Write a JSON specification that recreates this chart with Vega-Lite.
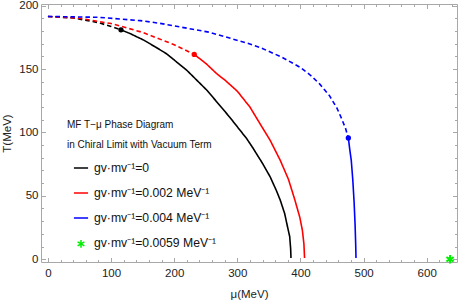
{
  "$schema": "https://vega.github.io/schema/vega-lite/v6.json",
  "width": 416,
  "height": 258,
  "autosize": "none",
  "padding": {"left": 41, "top": 4, "right": 3, "bottom": 41},
  "background": "white",
  "config": {
    "view": {"stroke": null},
    "font": "Liberation Sans",
    "axis": {
      "grid": false,
      "domainColor": "#a8a8a8",
      "tickColor": "#a8a8a8",
      "labelColor": "#222222",
      "titleColor": "#222222",
      "labelFontSize": 11.5,
      "titleFontSize": 11.5,
      "titleFontWeight": "normal",
      "labelFont": "Liberation Sans",
      "titleFont": "Liberation Sans"
    }
  },
  "datasets": {
    "curves": [
      {"series": "0", "style": "dashed", "mu": 0, "T": 191.5},
      {"series": "0", "style": "dashed", "mu": 40, "T": 190.3},
      {"series": "0", "style": "dashed", "mu": 80, "T": 186.6},
      {"series": "0", "style": "dashed", "mu": 100, "T": 183.6},
      {"series": "0", "style": "dashed", "mu": 115.7, "T": 180.9},
      {"series": "0", "style": "solid", "mu": 115.7, "T": 180.9},
      {"series": "0", "style": "solid", "mu": 130, "T": 178},
      {"series": "0", "style": "solid", "mu": 151, "T": 173},
      {"series": "0", "style": "solid", "mu": 170, "T": 167.5},
      {"series": "0", "style": "solid", "mu": 188, "T": 162},
      {"series": "0", "style": "solid", "mu": 220, "T": 149},
      {"series": "0", "style": "solid", "mu": 252, "T": 133.2},
      {"series": "0", "style": "solid", "mu": 288, "T": 112},
      {"series": "0", "style": "solid", "mu": 315, "T": 95},
      {"series": "0", "style": "solid", "mu": 325, "T": 87.5},
      {"series": "0", "style": "solid", "mu": 340, "T": 75.5},
      {"series": "0", "style": "solid", "mu": 352, "T": 65},
      {"series": "0", "style": "solid", "mu": 362, "T": 54},
      {"series": "0", "style": "solid", "mu": 368, "T": 46.6},
      {"series": "0", "style": "solid", "mu": 375, "T": 36},
      {"series": "0", "style": "solid", "mu": 379.5, "T": 25.6},
      {"series": "0", "style": "solid", "mu": 383, "T": 17.8},
      {"series": "0", "style": "solid", "mu": 384.5, "T": 8},
      {"series": "0", "style": "solid", "mu": 385, "T": 1},
      {"series": "0.002", "style": "dashed", "mu": 0, "T": 191.5},
      {"series": "0.002", "style": "dashed", "mu": 50, "T": 190.1},
      {"series": "0.002", "style": "dashed", "mu": 100, "T": 185.9},
      {"series": "0.002", "style": "dashed", "mu": 150, "T": 178.9},
      {"series": "0.002", "style": "dashed", "mu": 200, "T": 169.2},
      {"series": "0.002", "style": "dashed", "mu": 231.8, "T": 161.5},
      {"series": "0.002", "style": "solid", "mu": 231.8, "T": 161.5},
      {"series": "0.002", "style": "solid", "mu": 250, "T": 154.5},
      {"series": "0.002", "style": "solid", "mu": 267, "T": 146.5},
      {"series": "0.002", "style": "solid", "mu": 281, "T": 141},
      {"series": "0.002", "style": "solid", "mu": 300, "T": 132.5},
      {"series": "0.002", "style": "solid", "mu": 320, "T": 120},
      {"series": "0.002", "style": "solid", "mu": 337, "T": 106},
      {"series": "0.002", "style": "solid", "mu": 352, "T": 93.8},
      {"series": "0.002", "style": "solid", "mu": 368, "T": 78},
      {"series": "0.002", "style": "solid", "mu": 381, "T": 63},
      {"series": "0.002", "style": "solid", "mu": 391, "T": 47},
      {"series": "0.002", "style": "solid", "mu": 399, "T": 33},
      {"series": "0.002", "style": "solid", "mu": 403, "T": 23},
      {"series": "0.002", "style": "solid", "mu": 405.5, "T": 12},
      {"series": "0.002", "style": "solid", "mu": 406.5, "T": 1},
      {"series": "0.004", "style": "dashed", "mu": 0, "T": 191.5},
      {"series": "0.004", "style": "dashed", "mu": 80, "T": 190.8},
      {"series": "0.004", "style": "dashed", "mu": 146, "T": 188.2},
      {"series": "0.004", "style": "dashed", "mu": 177, "T": 186.1},
      {"series": "0.004", "style": "dashed", "mu": 256, "T": 179},
      {"series": "0.004", "style": "dashed", "mu": 315, "T": 170.5},
      {"series": "0.004", "style": "dashed", "mu": 335, "T": 167.2},
      {"series": "0.004", "style": "dashed", "mu": 370, "T": 159.5},
      {"series": "0.004", "style": "dashed", "mu": 399, "T": 151.5},
      {"series": "0.004", "style": "dashed", "mu": 415, "T": 145.5},
      {"series": "0.004", "style": "dashed", "mu": 430, "T": 138.5},
      {"series": "0.004", "style": "dashed", "mu": 446, "T": 129},
      {"series": "0.004", "style": "dashed", "mu": 458, "T": 119},
      {"series": "0.004", "style": "dashed", "mu": 466, "T": 110},
      {"series": "0.004", "style": "dashed", "mu": 471.5, "T": 103},
      {"series": "0.004", "style": "dashed", "mu": 475.9, "T": 95.6},
      {"series": "0.004", "style": "solid", "mu": 475.9, "T": 95.6},
      {"series": "0.004", "style": "solid", "mu": 478, "T": 87},
      {"series": "0.004", "style": "solid", "mu": 480.5, "T": 78},
      {"series": "0.004", "style": "solid", "mu": 483, "T": 62},
      {"series": "0.004", "style": "solid", "mu": 485, "T": 45},
      {"series": "0.004", "style": "solid", "mu": 486.5, "T": 28},
      {"series": "0.004", "style": "solid", "mu": 487.5, "T": 12},
      {"series": "0.004", "style": "solid", "mu": 488, "T": 1}
    ],
    "cep": [
      {"series": "0", "mu": 115.7, "T": 180.9},
      {"series": "0.002", "mu": 231.8, "T": 161.5},
      {"series": "0.004", "mu": 475.9, "T": 95.6}
    ],
    "marker": [
      {"series": "0.0059", "mu": 637, "T": 0}
    ]
  },
  "layer": [
    {
      "data": {"name": "curves"},
      "mark": {"type": "line", "strokeWidth": 1.6},
      "encoding": {
        "x": {
          "field": "mu", "type": "quantitative",
          "scale": {"domain": [-11, 648], "nice": false, "zero": false},
          "axis": {"orient": "bottom", "title": "μ(MeV)", "values": [0, 100, 200, 300, 400, 500, 600], "ticks": false, "domain": true, "labelPadding": 5, "titlePadding": 10}
        },
        "y": {
          "field": "T", "type": "quantitative",
          "scale": {"domain": [-2.2, 201.3], "nice": false, "zero": false},
          "axis": {"orient": "left", "title": "T(MeV)", "values": [0, 50, 100, 150, 200], "ticks": false, "domain": true, "labelPadding": 3, "titlePadding": 6}
        },
        "color": {
          "field": "series", "type": "nominal",
          "scale": {"domain": ["0", "0.002", "0.004", "0.0059"], "range": ["#000000", "#ff0000", "#0000ff", "#00ee00"]},
          "legend": {
            "orient": "none",
            "legendX": 26,
            "legendY": 116,
            "direction": "vertical",
            "padding": 0,
            "title": ["MF T−μ Phase Diagram", "in Chiral Limit with Vacuum Term"],
            "titleFontSize": 10,
            "titleFontWeight": "normal",
            "titleColor": "#111111",
            "titleFont": "Liberation Sans",
            "titleLineHeight": 20,
            "titlePadding": 10,
            "labelFont": "Liberation Sans",
            "labelFontSize": 12.2,
            "labelColor": "#111111",
            "labelOffset": 5,
            "labelExpr": "'gv·mv⁻¹=' + datum.value + (datum.value === '0' ? '' : ' MeV⁻¹')",
            "symbolType": {"expr": "datum.value === '0.0059' ? 'M0,-0.42L0,0.68M-0.48,-0.15L0.48,0.4M-0.48,0.4L0.48,-0.15' : 'stroke'"},
            "symbolSize": 200,
            "symbolStrokeWidth": 1.5,
            "symbolOffset": 6,
            "rowPadding": 10
          }
        },
        "strokeDash": {
          "field": "style", "type": "nominal",
          "scale": {"domain": ["dashed", "solid"], "range": [[4.5, 3], [1, 0]]},
          "legend": null
        }
      }
    },
    {
      "data": {"name": "cep"},
      "mark": {"type": "point", "filled": true, "size": 28, "opacity": 1},
      "encoding": {
        "x": {
          "field": "mu", "type": "quantitative",
          "scale": {"domain": [-11, 648], "nice": false, "zero": false},
          "axis": {"orient": "top", "title": null, "labels": false, "values": [0, 100, 200, 300, 400, 500, 600], "tickSize": -4.5, "domain": true}
        },
        "y": {
          "field": "T", "type": "quantitative",
          "scale": {"domain": [-2.2, 201.3], "nice": false, "zero": false},
          "axis": {"orient": "right", "title": null, "labels": false, "values": [0, 50, 100, 150, 200], "tickSize": -4.5, "domain": true}
        },
        "fill": {
          "field": "series", "type": "nominal",
          "scale": {"domain": ["0", "0.002", "0.004"], "range": ["#000000", "#ff0000", "#0000ff"]},
          "legend": null
        }
      }
    },
    {
      "data": {"name": "marker"},
      "mark": {"type": "point", "filled": false, "size": 230, "strokeWidth": 2, "opacity": 1, "shape": "M0,-0.55L0,0.55M-0.48,-0.28L0.48,0.28M-0.48,0.28L0.48,-0.28"},
      "encoding": {
        "x": {
          "field": "mu", "type": "quantitative",
          "scale": {"domain": [-11, 648], "nice": false, "zero": false},
          "axis": {"orient": "bottom", "title": null, "labels": false, "values": [0, 100, 200, 300, 400, 500, 600], "tickSize": -4.5, "domain": false}
        },
        "y": {
          "field": "T", "type": "quantitative",
          "scale": {"domain": [-2.2, 201.3], "nice": false, "zero": false},
          "axis": {"orient": "left", "title": null, "labels": false, "values": [0, 50, 100, 150, 200], "tickSize": -4.5, "domain": false}
        },
        "color": {"field": "series", "type": "nominal"}
      }
    },
    {
      "data": {"name": "marker"},
      "mark": {"type": "point", "opacity": 0},
      "encoding": {
        "x": {
          "field": "mu", "type": "quantitative",
          "scale": {"domain": [-11, 648], "nice": false, "zero": false},
          "axis": {"orient": "bottom", "title": null, "labels": false, "values": [20, 40, 60, 80, 120, 140, 160, 180, 220, 240, 260, 280, 320, 340, 360, 380, 420, 440, 460, 480, 520, 540, 560, 580, 620, 640], "tickSize": -2.5, "domain": false}
        },
        "y": {
          "field": "T", "type": "quantitative",
          "scale": {"domain": [-2.2, 201.3], "nice": false, "zero": false},
          "axis": {"orient": "left", "title": null, "labels": false, "values": [10, 20, 30, 40, 60, 70, 80, 90, 110, 120, 130, 140, 160, 170, 180, 190], "tickSize": -2.5, "domain": false}
        }
      }
    },
    {
      "data": {"name": "marker"},
      "mark": {"type": "point", "opacity": 0},
      "encoding": {
        "x": {
          "field": "mu", "type": "quantitative",
          "scale": {"domain": [-11, 648], "nice": false, "zero": false},
          "axis": {"orient": "top", "title": null, "labels": false, "values": [20, 40, 60, 80, 120, 140, 160, 180, 220, 240, 260, 280, 320, 340, 360, 380, 420, 440, 460, 480, 520, 540, 560, 580, 620, 640], "tickSize": -2.5, "domain": false}
        },
        "y": {
          "field": "T", "type": "quantitative",
          "scale": {"domain": [-2.2, 201.3], "nice": false, "zero": false},
          "axis": {"orient": "right", "title": null, "labels": false, "values": [10, 20, 30, 40, 60, 70, 80, 90, 110, 120, 130, 140, 160, 170, 180, 190], "tickSize": -2.5, "domain": false}
        }
      }
    }
  ],
  "resolve": {"axis": {"x": "independent", "y": "independent"}}
}
